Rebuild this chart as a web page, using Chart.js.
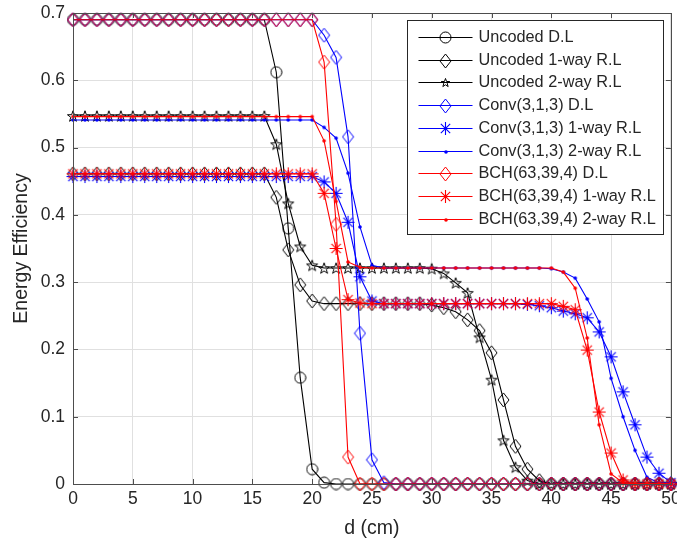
<!DOCTYPE html>
<html><head><meta charset="utf-8">
<script src="https://cdn.jsdelivr.net/npm/chart.js@4.4.1/dist/chart.umd.min.js"></script>
<style>html,body{margin:0;padding:0;background:#fff;}#wrap{width:677px;height:545px;position:relative;}</style>
</head><body><div id="wrap"><canvas id="c"></canvas></div>
<script>
const distanceCm = [0,1,2,3,4,5,6,7,8,9,10,11,12,13,14,15,16,17,18,19,20,21,22,23,24,25,26,27,28,29,30,31,32,33,34,35,36,37,38,39,40,41,42,43,44,45,46,47,48,49,50];
const xTicks = [0,5,10,15,20,25,30,35,40,45,50];
const yTicks = [0,0.1,0.2,0.3,0.4,0.5,0.6,0.7];
const seriesNames = ['Uncoded D.L','Uncoded 1-way R.L','Uncoded 2-way R.L','Conv(3,1,3) D.L','Conv(3,1,3) 1-way R.L','Conv(3,1,3) 2-way R.L','BCH(63,39,4) D.L','BCH(63,39,4) 1-way R.L','BCH(63,39,4) 2-way R.L'];

const uncodedDL = [0.69,0.69,0.69,0.69,0.69,0.69,0.69,0.69,0.69,0.69,
  0.69,0.69,0.69,0.69,0.69,0.69,0.69,0.612,0.38,0.158,
  0.022,0.002,0,0,0,0,0,0,0,0,
  0,0,0,0,0,0,0,0,0,0,
  0,0,0,0,0,0,0,0,0,0,0];
const uncoded1way = [0.461,0.461,0.461,0.461,0.461,0.461,0.461,0.461,0.461,0.461,
  0.461,0.461,0.461,0.461,0.461,0.461,0.461,0.426,0.348,0.296,
  0.272,0.268,0.268,0.268,0.268,0.268,0.268,0.268,0.268,0.268,
  0.266,0.262,0.256,0.244,0.228,0.195,0.125,0.056,0.022,0.005,
  0,0,0,0,0,0,0,0,0,0,0];
const uncoded2way = [0.547,0.547,0.547,0.547,0.547,0.547,0.547,0.547,0.547,0.547,
  0.547,0.547,0.547,0.547,0.547,0.547,0.547,0.505,0.417,0.353,
  0.325,0.321,0.321,0.321,0.321,0.321,0.321,0.321,0.321,0.321,
  0.32,0.313,0.299,0.284,0.218,0.155,0.065,0.025,0.005,0,
  0,0,0,0,0,0,0,0,0,0,0];
const convDL = [0.69,0.69,0.69,0.69,0.69,0.69,0.69,0.69,0.69,0.69,
  0.69,0.69,0.69,0.69,0.69,0.69,0.69,0.69,0.69,0.69,
  0.69,0.667,0.634,0.516,0.224,0.036,0.002,0,0,0,
  0,0,0,0,0,0,0,0,0,0,
  0,0,0,0,0,0,0,0,0,0,0];
const conv1way = [0.457,0.457,0.457,0.457,0.457,0.457,0.457,0.457,0.457,0.457,
  0.457,0.457,0.457,0.457,0.457,0.457,0.457,0.457,0.457,0.457,
  0.457,0.449,0.432,0.389,0.308,0.272,0.268,0.268,0.268,0.268,
  0.268,0.268,0.268,0.268,0.268,0.268,0.268,0.268,0.267,0.265,
  0.262,0.257,0.253,0.247,0.226,0.189,0.137,0.088,0.04,0.016,0.002];
const conv2way = [0.541,0.541,0.541,0.541,0.541,0.541,0.541,0.541,0.541,0.541,
  0.541,0.541,0.541,0.541,0.541,0.541,0.541,0.541,0.541,0.541,
  0.541,0.53,0.514,0.462,0.382,0.325,0.321,0.321,0.321,0.321,
  0.321,0.321,0.321,0.321,0.321,0.321,0.321,0.321,0.321,0.321,
  0.32,0.315,0.306,0.275,0.241,0.157,0.1,0.05,0.01,0.002,0];
const bchDL = [0.69,0.69,0.69,0.69,0.69,0.69,0.69,0.69,0.69,0.69,
  0.69,0.69,0.69,0.69,0.69,0.69,0.69,0.69,0.69,0.69,
  0.69,0.627,0.386,0.04,0,0,0,0,0,0,
  0,0,0,0,0,0,0,0,0,0,
  0,0,0,0,0,0,0,0,0,0,0];
const bch1way = [0.461,0.461,0.461,0.461,0.461,0.461,0.461,0.461,0.461,0.461,
  0.461,0.461,0.461,0.461,0.461,0.461,0.461,0.461,0.461,0.461,
  0.461,0.432,0.35,0.274,0.269,0.268,0.268,0.268,0.268,0.268,
  0.268,0.268,0.268,0.268,0.268,0.268,0.268,0.268,0.268,0.268,
  0.268,0.264,0.259,0.199,0.107,0.046,0.006,0,0,0,0];
const bch2way = [0.546,0.546,0.546,0.546,0.546,0.546,0.546,0.546,0.546,0.546,
  0.546,0.546,0.546,0.546,0.546,0.546,0.546,0.546,0.546,0.546,
  0.546,0.51,0.42,0.33,0.322,0.321,0.321,0.321,0.321,0.321,
  0.321,0.321,0.321,0.321,0.321,0.321,0.321,0.321,0.321,0.321,
  0.321,0.315,0.291,0.217,0.088,0.015,0.002,0,0,0,0];

const seriesValues = [uncodedDL,uncoded1way,uncoded2way,convDL,conv1way,conv2way,bchDL,bch1way,bch2way];
const seriesColors = ['#000000','#000000','#000000','#0000ff','#0000ff','#0000ff','#ff0000','#ff0000','#ff0000'];
const seriesMarkers = ['circle','diamond','pentagram','diamond','asterisk','dot','diamond','asterisk','dot'];

function mk(w,h,draw){const c=document.createElement('canvas');c.width=w;c.height=h;const g=c.getContext('2d');draw(g,w,h);return c;}
function diamond(color,w,h){return mk(w+2,h+2,(g)=>{g.strokeStyle=color;g.lineWidth=1;g.beginPath();g.moveTo((w+2)/2,1);g.lineTo(w+1,(h+2)/2);g.lineTo((w+2)/2,h+1);g.lineTo(1,(h+2)/2);g.closePath();g.stroke();});}
function pentagram(color,R){const s=Math.ceil(2*R+2);return mk(s,s,(g)=>{g.strokeStyle=color;g.lineWidth=1;g.beginPath();const cx=s/2,cy=s/2+R*0.1;for(let i=0;i<10;i++){const r=i%2?R*0.4:R;const a=-Math.PI/2+i*Math.PI/5;const px=cx+r*Math.cos(a),py=cy+r*Math.sin(a);if(i)g.lineTo(px,py);else g.moveTo(px,py);}g.closePath();g.stroke();});}
function asterisk(color,R){const s=Math.ceil(2*R+2);return mk(s,s,(g)=>{g.strokeStyle=color;g.lineWidth=1.1;g.beginPath();const c=s/2;g.moveTo(c-R,c);g.lineTo(c+R,c);g.moveTo(c,c-R);g.lineTo(c,c+R);const d=R*0.72;g.moveTo(c-d,c-d);g.lineTo(c+d,c+d);g.moveTo(c-d,c+d);g.lineTo(c+d,c-d);g.stroke();});}
function circleM(color,R){const s=Math.ceil(2*R+2);return mk(s,s,(g)=>{g.strokeStyle=color;g.lineWidth=1;g.beginPath();g.arc(s/2,s/2,R,0,Math.PI*2);g.stroke();});}
function dotM(color,R){const s=Math.ceil(2*R+2);return mk(s,s,(g)=>{g.fillStyle=color;g.beginPath();g.arc(s/2,s/2,R,0,Math.PI*2);g.fill();});}
function markerFor(kind,color,legend){
  if(kind==='circle')return circleM(color,5.5);
  if(kind==='diamond')return diamond(color,11,14);
  if(kind==='pentagram')return pentagram(color,legend?4.5:5.8);
  if(kind==='asterisk')return asterisk(color,6.5);
  return dotM(color,1.8);
}
const plotMarkers = seriesMarkers.map((m,i)=>markerFor(m,seriesColors[i],false));
const legendMarkers = seriesMarkers.map((m,i)=>markerFor(m,seriesColors[i],true));

const datasets = seriesNames.map((name,i)=>({
  label:name,
  data:distanceCm.map((d,j)=>({x:d,y:seriesValues[i][j]})),
  borderColor:seriesColors[i],
  backgroundColor:seriesColors[i],
  borderWidth:1.1,
  pointStyle:plotMarkers[i],
  pointRadius:5,
  pointHoverRadius:5,
  tension:0,
  clip:false,
  order:seriesNames.length-i
}));

const TXT='#262626';
const FONT='"Liberation Sans", Arial, Helvetica, sans-serif';

const frame = {
  id:'frame',
  afterDraw(chart){
    const {ctx,chartArea:a,scales}=chart;
    ctx.save();
    ctx.strokeStyle='#4d4d4d';ctx.lineWidth=1;
    ctx.beginPath();
    xTicks.forEach(v=>{const x=Math.round(scales.x.getPixelForValue(v))+0.5;ctx.moveTo(x,a.bottom);ctx.lineTo(x,a.bottom-5);ctx.moveTo(x,a.top);ctx.lineTo(x,a.top+5);});
    yTicks.forEach(v=>{const y=Math.round(scales.y.getPixelForValue(v))+0.5;ctx.moveTo(a.left,y);ctx.lineTo(a.left+5,y);ctx.moveTo(a.right,y);ctx.lineTo(a.right-5,y);});
    ctx.stroke();
    ctx.strokeRect(Math.round(a.left)+0.5,Math.round(a.top)+0.5,Math.round(a.right-a.left),Math.round(a.bottom-a.top));
    // legend
    const w=256,h=214;
    const x0=Math.round(a.right)-264+0.5,y0=Math.round(a.top)+7+0.5;
    ctx.fillStyle='#ffffff';ctx.fillRect(x0,y0,w,h);
    ctx.strokeStyle='#262626';ctx.strokeRect(x0,y0,w,h);
    ctx.font='16.3px '+FONT;ctx.textBaseline='middle';ctx.textAlign='left';
    seriesNames.forEach((name,i)=>{
      const y=Math.round(y0+16.5+i*22.7);
      ctx.strokeStyle=seriesColors[i];ctx.beginPath();ctx.moveTo(x0+11,y+0.5);ctx.lineTo(x0+65,y+0.5);ctx.stroke();
      const m=legendMarkers[i];ctx.drawImage(m,Math.round(x0+38-m.width/2),Math.round(y+0.5-m.height/2));
      ctx.fillStyle=TXT;ctx.fillText(name,x0+71,y+1);
    });
    ctx.restore();
  }
};

new Chart(document.getElementById('c'),{
  type:'line',
  data:{datasets},
  options:{
    responsive:true,maintainAspectRatio:false,animation:false,
    layout:{padding:{left:8,right:6,top:13,bottom:5}},
    plugins:{legend:{display:false},tooltip:{enabled:false}},
    scales:{
      x:{type:'linear',min:0,max:50,
        afterBuildTicks:(s)=>{s.ticks=xTicks.map(v=>({value:v}));},
        afterFit:(s)=>{s.height=56;s.paddingLeft=0;s.paddingRight=0;},
        ticks:{color:TXT,font:{family:FONT,size:17.5},padding:5,maxRotation:0,autoSkip:false},
        grid:{color:'#e0e0e0',drawTicks:false},
        border:{display:false},
        title:{display:true,text:'d (cm)',color:TXT,font:{family:FONT,size:19.5},padding:{top:2,bottom:0}}
      },
      y:{type:'linear',min:0,max:0.7,
        afterBuildTicks:(s)=>{s.ticks=yTicks.map(v=>({value:v}));},
        afterFit:(s)=>{s.width=65;s.paddingTop=0;s.paddingBottom=0;},
        ticks:{color:TXT,font:{family:FONT,size:17.5},padding:8,callback:(v)=>v===0?'0':Number(v).toFixed(1)},
        grid:{color:'#e0e0e0',drawTicks:false},
        border:{display:false},
        title:{display:true,text:'Energy Efficiency',color:TXT,font:{family:FONT,size:19.5},padding:{top:2,bottom:0}}
      }
    }
  },
  plugins:[frame]
});
</script></body></html>
